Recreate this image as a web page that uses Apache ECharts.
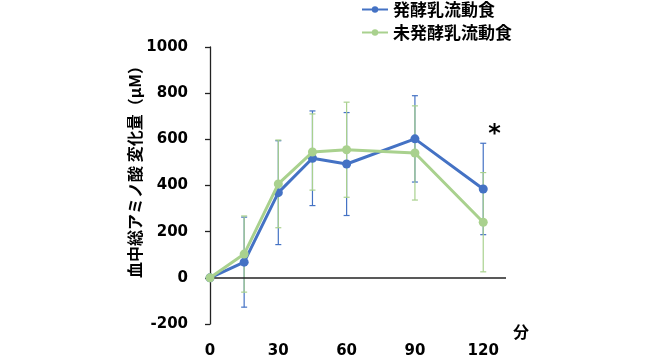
<!DOCTYPE html>
<html><head><meta charset="utf-8">
<script src="https://cdn.jsdelivr.net/npm/echarts@6/dist/echarts.min.js"></script>
<style>html,body{margin:0;padding:0;background:#fff}#c{width:660px;height:356px}</style>
</head><body><div id="c"></div>
<script>
const minutes = [0, 15, 30, 45, 60, 90, 120];
const fermented = [0, 68, 369, 518, 493, 602, 385];
const fermentedErr = [0, 195, 225, 205, 223, 187, 198];
const nonFermented = [0, 103, 407, 545, 555, 541, 241];
const nonFermentedErr = [0, 165, 190, 165, 206, 204, 215];
const seriesNames = ['発酵乳流動食', '未発酵乳流動食'];
const xTicks = [0, 30, 60, 90, 120];
const asterisk = { x: 125, y: 618, text: '*' };

const BLUE = '#4472C4', GREEN = '#A9D18E';
const FONT = '"Noto Sans CJK JP", "Noto Sans", sans-serif';
const NUMFONT = '"DejaVu Sans", "Noto Sans CJK JP", sans-serif';

function errSeries(name, vals, errs, color, z) {
  return {
    type: 'custom', name: name + '_err', z: z, silent: true,
    data: minutes.map((m, i) => [m, vals[i] - errs[i], vals[i] + errs[i]]),
    renderItem: function (params, api) {
      const lo = api.coord([api.value(0), api.value(1)]);
      const hi = api.coord([api.value(0), api.value(2)]);
      const w = 3;
      const st = { stroke: color, lineWidth: 1.2 };
      return { type: 'group', children: [
        { type: 'line', shape: { x1: lo[0], y1: lo[1], x2: hi[0], y2: hi[1] }, style: st },
        { type: 'line', shape: { x1: lo[0] - w, y1: lo[1], x2: lo[0] + w, y2: lo[1] }, style: st },
        { type: 'line', shape: { x1: hi[0] - w, y1: hi[1], x2: hi[0] + w, y2: hi[1] }, style: st }
      ]};
    }
  };
}

const chart = echarts.init(document.getElementById('c'));
chart.setOption({
  animation: false,
  textStyle: { fontFamily: FONT },
  grid: { left: 210, right: 154, top: 47, bottom: 32, outerBoundsMode: 'none', containLabel: false },
  legend: {
    data: seriesNames, orient: 'vertical', left: 356, top: -4,
    itemWidth: 26, itemHeight: 8, itemGap: 6,
    textStyle: { fontSize: 17, fontWeight: 'bold', color: '#000', fontFamily: FONT }
  },
  xAxis: {
    type: 'value', min: 0, max: 130, interval: 30,
    name: '分', nameLocation: 'end', nameGap: 7,
    nameTextStyle: { fontSize: 16, fontWeight: 'bold', color: '#000', verticalAlign: 'top', fontFamily: FONT },
    axisLine: { show: false, onZero: false }, axisTick: { show: false }, splitLine: { show: false },
    axisLabel: {
      margin: 20, fontSize: 15, fontWeight: 'bold', color: '#000', fontFamily: NUMFONT,
      showMaxLabel: false,
      formatter: v => xTicks.indexOf(v) >= 0 ? String(v) : ''
    }
  },
  yAxis: {
    type: 'value', min: -200, max: 1000, interval: 200,
    axisLine: { show: true, onZero: false, lineStyle: { color: '#222', width: 1.3 } },
    axisTick: { show: true, inside: false, length: 5, lineStyle: { color: '#222', width: 1.3 } },
    splitLine: { show: false },
    axisLabel: { margin: 22, fontSize: 15, fontWeight: 'bold', color: '#000', fontFamily: NUMFONT,
      formatter: v => String(v) }
  },
  graphic: [{
    type: 'text', x: 135, y: 168, rotation: Math.PI / 2,
    style: { text: '血中総アミノ酸 変化量（μM）', fontSize: 16, fontWeight: 'bold', fill: '#000',
      fontFamily: FONT, align: 'center', verticalAlign: 'middle' }
  }],
  series: [
    errSeries(seriesNames[0], fermented, fermentedErr, BLUE, 2),
    errSeries(seriesNames[1], nonFermented, nonFermentedErr, GREEN, 3),
    {
      name: seriesNames[0], type: 'line', z: 4,
      data: minutes.map((m, i) => [m, fermented[i]]),
      symbol: 'circle', symbolSize: 9,
      lineStyle: { color: BLUE, width: 3 }, itemStyle: { color: BLUE },
      markLine: {
        silent: true, symbol: 'none', label: { show: false },
        lineStyle: { color: '#222', width: 1.5, type: 'solid' },
        data: [{ yAxis: 0 }]
      },
      markPoint: {
        silent: true,
        data: [{ coord: [asterisk.x, asterisk.y], symbol: 'circle', symbolSize: 0,
          label: { show: true, formatter: asterisk.text, fontSize: 24, fontWeight: 'bold', color: '#000',
            position: 'inside', fontFamily: NUMFONT } }]
      }
    },
    {
      name: seriesNames[1], type: 'line', z: 5,
      data: minutes.map((m, i) => [m, nonFermented[i]]),
      symbol: 'circle', symbolSize: 9,
      lineStyle: { color: GREEN, width: 3 }, itemStyle: { color: GREEN }
    }
  ]
});
</script></body></html>
